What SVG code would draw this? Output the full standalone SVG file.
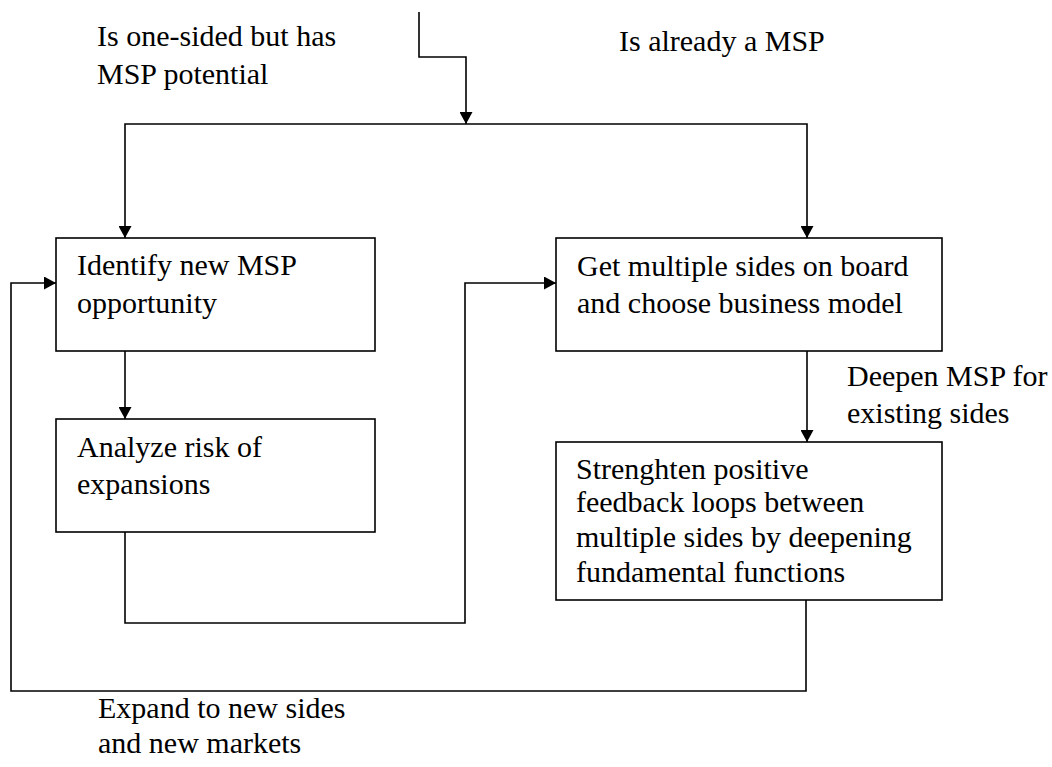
<svg xmlns="http://www.w3.org/2000/svg" width="1052" height="767" viewBox="0 0 1052 767">
<style>
  .box { fill: #ffffff; stroke: #000000; stroke-width: 1.6; }
  .conn { fill: none; stroke: #000000; stroke-width: 1.6; }
  text { font-family: "Liberation Serif", "Times New Roman", serif; font-size: 30px; fill: #000000; }
</style>
<defs>
  <marker id="arrow" markerUnits="userSpaceOnUse" markerWidth="13" markerHeight="13" refX="12" refY="6.5" orient="auto">
    <path d="M0,0 L12,6.5 L0,13 Z" fill="#000000"/>
  </marker>
</defs>
<rect width="1052" height="767" fill="#ffffff"/>

<g id="connectors">
  <path class="conn" d="M419,12 V57 H466 V124" marker-end="url(#arrow)"/>
  <path class="conn" d="M466,124 H125 V238" marker-end="url(#arrow)"/>
  <path class="conn" d="M466,124 H807 V238" marker-end="url(#arrow)"/>
  <path class="conn" d="M125,351 V419" marker-end="url(#arrow)"/>
  <path class="conn" d="M125,532 V623 H465 V283 H556" marker-end="url(#arrow)"/>
  <path class="conn" d="M807,351 V442" marker-end="url(#arrow)"/>
  <path class="conn" d="M806,600 V691 H11 V283 H56" marker-end="url(#arrow)"/>
</g>

<g id="labels">
  <text x="97" y="46">Is one-sided but has</text>
  <text x="97" y="84">MSP potential</text>
  <text x="619" y="51">Is already a MSP</text>
  <text x="847" y="386">Deepen MSP for</text>
  <text x="847" y="423">existing sides</text>
  <text x="98" y="718">Expand to new sides</text>
  <text x="98" y="753">and new markets</text>
</g>

<g id="identify">
  <rect class="box" x="56" y="238" width="319" height="113"/>
  <text x="77" y="275">Identify new MSP</text>
  <text x="77" y="313">opportunity</text>
</g>

<g id="analyze">
  <rect class="box" x="56" y="419" width="319" height="113"/>
  <text x="77" y="457">Analyze risk of</text>
  <text x="77" y="494">expansions</text>
</g>

<g id="get-sides">
  <rect class="box" x="556" y="238" width="386" height="113"/>
  <text x="577" y="276">Get multiple sides on board</text>
  <text x="577" y="313">and choose business model</text>
</g>

<g id="strengthen">
  <rect class="box" x="556" y="442" width="386" height="158"/>
  <text x="576" y="479">Strenghten positive</text>
  <text x="576" y="512">feedback loops between</text>
  <text x="576" y="547">multiple sides by deepening</text>
  <text x="576" y="582">fundamental functions</text>
</g>
</svg>
